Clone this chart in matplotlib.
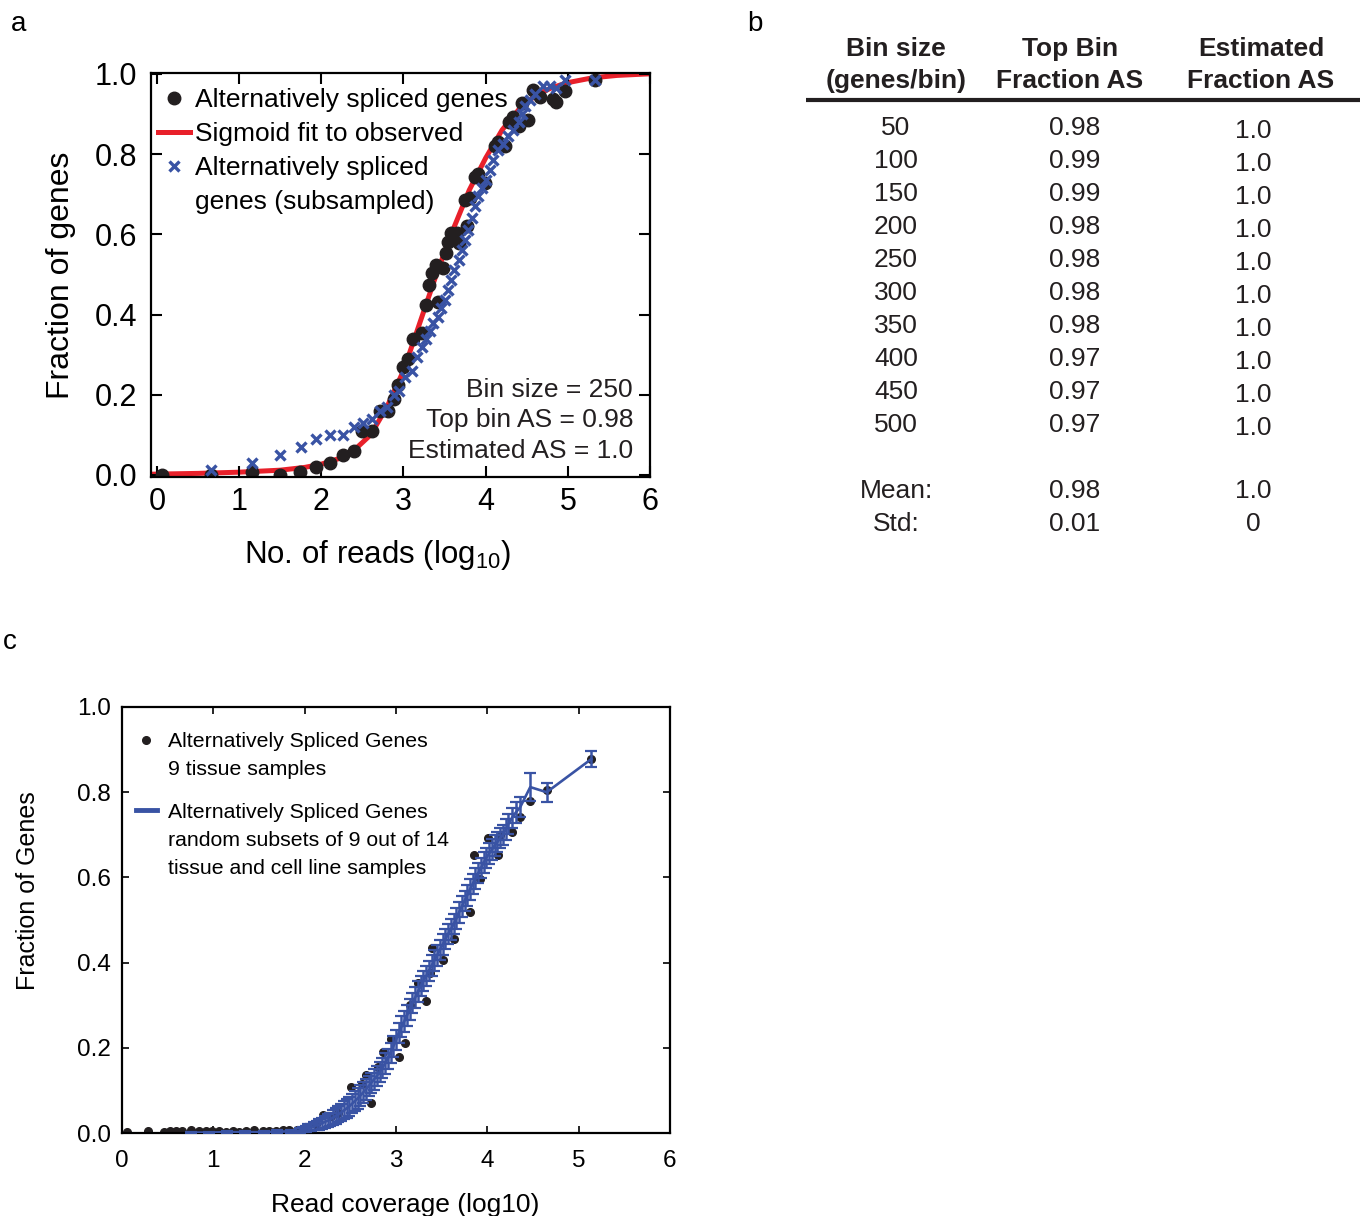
import matplotlib
matplotlib.use("Agg")
import matplotlib.pyplot as plt
from matplotlib.lines import Line2D

plt.rcParams['font.family'] = ['Liberation Sans', 'DejaVu Sans']
plt.rcParams['mathtext.default'] = 'regular'

# ---- panel a data ----
obs_x = [0.06, 0.66, 1.16, 1.50, 1.74, 1.93, 2.10, 2.26, 2.40, 2.50, 2.62, 2.71, 2.81, 2.88,
         2.93, 3.00, 3.06, 3.12, 3.22, 3.27, 3.42, 3.31, 3.35, 3.40, 3.48, 3.52, 3.54, 3.58,
         3.65, 3.67, 3.77, 3.75, 3.81, 3.87, 3.91, 3.99, 4.11, 4.15, 4.23, 4.29, 4.33, 4.40,
         4.44, 4.52, 4.58, 4.66, 4.82, 4.86, 4.96, 5.33]
obs_y = [0.0, 0.0, 0.008, 0.0, 0.008, 0.02, 0.03, 0.05, 0.06, 0.11, 0.11, 0.16, 0.16, 0.19,
         0.225, 0.27, 0.29, 0.34, 0.353, 0.424, 0.432, 0.474, 0.503, 0.524, 0.515, 0.553, 0.582, 0.603,
         0.603, 0.578, 0.62, 0.686, 0.69, 0.744, 0.75, 0.727, 0.819, 0.831, 0.819, 0.881, 0.893, 0.869,
         0.927, 0.885, 0.96, 0.943, 0.936, 0.93, 0.956, 0.985]

sub_x = [0.66, 1.16, 1.50, 1.75, 1.94, 2.11, 2.26, 2.40, 2.51, 2.62, 2.71, 2.80, 2.88, 2.95,
         3.02, 3.10, 3.16, 3.22, 3.27, 3.32, 3.36, 3.42, 3.46, 3.50, 3.54, 3.58, 3.62, 3.67,
         3.71, 3.75, 3.79, 3.83, 3.87, 3.91, 3.95, 4.01, 4.05, 4.09, 4.15, 4.21, 4.27, 4.33,
         4.40, 4.44, 4.48, 4.54, 4.60, 4.70, 4.78, 4.86, 4.96, 5.33]
sub_y = [0.012, 0.03, 0.05, 0.07, 0.09, 0.10, 0.10, 0.12, 0.13, 0.14, 0.16, 0.17, 0.20, 0.21,
         0.245, 0.26, 0.295, 0.32, 0.34, 0.36, 0.38, 0.395, 0.415, 0.435, 0.46, 0.485, 0.51, 0.535,
         0.56, 0.585, 0.61, 0.64, 0.67, 0.695, 0.715, 0.735, 0.76, 0.785, 0.81, 0.825, 0.845, 0.86,
         0.88, 0.90, 0.92, 0.935, 0.95, 0.97, 0.97, 0.965, 0.985, 0.985]

fit_x = [-0.07, 0.5, 1.0, 1.5, 1.8, 2.0, 2.2, 2.4, 2.6, 2.8, 3.0, 3.2, 3.4, 3.6, 3.8, 4.0,
         4.2, 4.4, 4.6, 4.8, 5.0, 5.3, 5.6, 6.0]
fit_y = [0.002, 0.004, 0.007, 0.012, 0.019, 0.027, 0.04, 0.062, 0.1, 0.17, 0.26, 0.38, 0.50,
         0.61, 0.71, 0.79, 0.86, 0.91, 0.945, 0.965, 0.978, 0.99, 0.996, 1.0]

# ---- panel b table ----
bin_sizes = [50, 100, 150, 200, 250, 300, 350, 400, 450, 500]
top_bin_as = [0.98, 0.99, 0.99, 0.98, 0.98, 0.98, 0.98, 0.97, 0.97, 0.97]
est_as = [1.0] * 10
mean_row = ['Mean:', '0.98', '1.0']
std_row = ['Std:', '0.01', '0']

# ---- panel c data ----
c_dot_x = [0.05, 0.29, 0.46, 0.53, 0.59, 0.66, 0.75, 0.84, 0.92, 0.99, 1.06, 1.14, 1.21, 1.28,
           1.36, 1.45, 1.54, 1.61, 1.69, 1.76, 1.83, 1.92, 2.00, 2.12, 2.20, 2.29, 2.36, 2.51,
           2.63, 2.67, 2.73, 2.80, 2.86, 2.95, 3.03, 3.10, 3.15, 3.24, 3.33, 3.37, 3.39, 3.52,
           3.64, 3.81, 3.85, 3.92, 4.01, 4.12, 4.14, 4.27, 4.36, 4.47, 4.65, 5.14]
c_dot_y = [0.003, 0.004, 0.003, 0.004, 0.004, 0.005, 0.006, 0.004, 0.005, 0.004, 0.004, 0.003, 0.004, 0.003,
           0.004, 0.006, 0.004, 0.005, 0.005, 0.006, 0.006, 0.007, 0.012, 0.02, 0.043, 0.04, 0.047, 0.107,
           0.115, 0.135, 0.07, 0.155, 0.19, 0.22, 0.179, 0.212, 0.30, 0.353, 0.31, 0.376, 0.435, 0.406,
           0.455, 0.518, 0.652, 0.597, 0.692, 0.652, 0.70, 0.706, 0.741, 0.78, 0.804, 0.877]

c_sub_x = [0.75, 0.95, 1.15, 1.35, 1.55, 1.70, 1.85, 1.95, 1.98, 2.01,
           2.04, 2.07, 2.10, 2.13, 2.16, 2.19, 2.22, 2.25, 2.28, 2.31,
           2.34, 2.37, 2.40, 2.43, 2.46, 2.49, 2.52, 2.55, 2.58, 2.61,
           2.64, 2.67, 2.70, 2.73, 2.76, 2.79, 2.82, 2.85, 2.88, 2.91,
           2.94, 2.97, 3.00, 3.03, 3.06, 3.09, 3.12, 3.15, 3.18, 3.21,
           3.24, 3.27, 3.30, 3.33, 3.36, 3.39, 3.42, 3.45, 3.48, 3.51,
           3.54, 3.57, 3.60, 3.63, 3.66, 3.69, 3.72, 3.75, 3.78, 3.81,
           3.84, 3.87, 3.90, 3.93, 3.96, 3.99, 4.02, 4.05, 4.08, 4.11,
           4.14, 4.17, 4.20, 4.23, 4.27, 4.31, 4.36, 4.47, 4.65, 5.14]
c_sub_y = [0.001, 0.001, 0.002, 0.002, 0.002, 0.003, 0.004, 0.006, 0.008, 0.010,
           0.012, 0.013, 0.016, 0.018, 0.020, 0.023, 0.026, 0.029, 0.032, 0.036,
           0.040, 0.044, 0.048, 0.053, 0.058, 0.063, 0.069, 0.075, 0.081, 0.088,
           0.095, 0.102, 0.110, 0.118, 0.126, 0.134, 0.143, 0.153, 0.163, 0.174,
           0.188, 0.203, 0.218, 0.235, 0.250, 0.262, 0.276, 0.290, 0.305, 0.318,
           0.332, 0.345, 0.357, 0.368, 0.380, 0.393, 0.405, 0.417, 0.430, 0.442,
           0.455, 0.467, 0.478, 0.490, 0.503, 0.518, 0.532, 0.545, 0.558, 0.572,
           0.585, 0.597, 0.610, 0.622, 0.635, 0.646, 0.656, 0.665, 0.675, 0.683,
           0.692, 0.700, 0.712, 0.725, 0.740, 0.752, 0.765, 0.812, 0.800, 0.878]
c_sub_err = [0.002, 0.002, 0.002, 0.002, 0.003, 0.003, 0.004, 0.005, 0.006, 0.007,
             0.008, 0.009, 0.010, 0.011, 0.012, 0.013, 0.014, 0.015, 0.016, 0.017,
             0.018, 0.019, 0.020, 0.021, 0.022, 0.022, 0.023, 0.023, 0.024, 0.024,
             0.024, 0.024, 0.024, 0.024, 0.024, 0.024, 0.024, 0.024, 0.024, 0.024,
             0.024, 0.024, 0.024, 0.024, 0.024, 0.024, 0.024, 0.024, 0.024, 0.024,
             0.024, 0.024, 0.024, 0.024, 0.024, 0.024, 0.024, 0.024, 0.024, 0.024,
             0.024, 0.024, 0.024, 0.024, 0.024, 0.024, 0.024, 0.024, 0.024, 0.024,
             0.024, 0.024, 0.024, 0.024, 0.024, 0.024, 0.024, 0.024, 0.024, 0.024,
             0.024, 0.024, 0.024, 0.024, 0.024, 0.024, 0.024, 0.033, 0.022, 0.018]

BLACK = '#231f20'
RED = '#e8202a'
BLUE = '#3953a4'

W, H = 1360, 1216
fig = plt.figure(figsize=(W / 100, H / 100), dpi=100)


def px_axes(left, top, right, bottom):
    return fig.add_axes([left / W, 1 - bottom / H, (right - left) / W, (bottom - top) / H])


blank = Line2D([], [], ls='none', marker='none')

# ================= panel a =================
ax = px_axes(151, 73, 650, 477)
fit_line, = ax.plot(fit_x, fit_y, color=RED, lw=3.6, zorder=1)
obs_pts, = ax.plot(obs_x, obs_y, 'o', color=BLACK, ms=9, zorder=2)
sub_pts, = ax.plot(sub_x, sub_y, 'x', color=BLUE, ms=6.5, mew=2.4, zorder=3)
ax.set_xlim(-0.073, 6.0)
ax.set_ylim(-0.005, 1.002)
ax.set_xticks(range(7))
ax.set_yticks([0, 0.2, 0.4, 0.6, 0.8, 1.0])
ax.set_yticklabels(['0.0', '0.2', '0.4', '0.6', '0.8', '1.0'])
ax.tick_params(direction='in', length=8, width=1.5, top=True, right=True, labelsize=22)
ax.tick_params(axis='x', pad=7)
ax.tick_params(axis='y', pad=10)
for s in ax.spines.values():
    s.set_linewidth(1.6)
ax.set_ylabel('Fraction of genes', fontsize=23)
ax.yaxis.set_label_coords(-0.15, 0.5)
ax.set_xlabel('No. of reads (log$_{10}$)', fontsize=22.5)
ax.xaxis.set_label_coords(0.453, -0.15)

ax.legend([obs_pts, fit_line, sub_pts, blank],
          ['Alternatively spliced genes', 'Sigmoid fit to observed',
           'Alternatively spliced', 'genes (subsampled)'],
          loc='upper left', bbox_to_anchor=(0.014, 0.962), frameon=False, fontsize=19,
          handlelength=1.21, handletextpad=0.19, labelspacing=0.38,
          borderpad=0.0, borderaxespad=0.0)

ax.text(0.966, 0.035, 'Bin size = 250\nTop bin AS = 0.98\nEstimated AS = 1.0',
        transform=ax.transAxes, ha='right', va='bottom', fontsize=19,
        linespacing=1.35, color=BLACK)

# ================= panel b (table) =================
tab = px_axes(790, 20, 1360, 545)
tab.set_xlim(790, 1360)
tab.set_ylim(545, 20)
tab.axis('off')
col_x = [896, 1075, 1253]
head_x = [896, 1070, 1261]
headers = ['Bin size\n(genes/bin)', 'Top Bin\nFraction AS', 'Estimated\nFraction AS']
for hx, h in zip(head_x, headers):
    tab.text(hx, 65, h, ha='center', va='center', fontsize=19, fontweight='bold',
             linespacing=1.46, color=BLACK)
tab.plot([806, 1360], [100, 100], color=BLACK, lw=3, solid_capstyle='butt')
for i, (b, t, e) in enumerate(zip(bin_sizes, top_bin_as, est_as)):
    y = 128 + 33 * i
    tab.text(col_x[0], y, str(b), ha='center', va='center', fontsize=19, color=BLACK)
    tab.text(col_x[1], y, f'{t:.2f}', ha='center', va='center', fontsize=19, color=BLACK)
    tab.text(col_x[2], y + 3, f'{e:.1f}', ha='center', va='center', fontsize=19, color=BLACK)
for y, row in [(491, mean_row), (524, std_row)]:
    for cx, s in zip(col_x, row):
        tab.text(cx, y, s, ha='center', va='center', fontsize=19, color=BLACK)

# ================= panel c =================
axc = px_axes(122, 707, 670, 1133)
axc.plot(c_dot_x, c_dot_y, 'o', color=BLACK, ms=5.5, zorder=2)
axc.errorbar(c_sub_x, c_sub_y, yerr=c_sub_err, color=BLUE, lw=1.9, elinewidth=1.8,
             capsize=4.5, capthick=1.6, zorder=3)
axc.set_xlim(0, 6)
axc.set_ylim(0, 1)
axc.set_xticks(range(7))
axc.set_yticks([0, 0.2, 0.4, 0.6, 0.8, 1.0])
axc.set_yticklabels(['0.0', '0.2', '0.4', '0.6', '0.8', '1.0'])
axc.tick_params(direction='in', length=5, width=1.2, top=True, right=True, labelsize=17.5)
axc.tick_params(axis='x', pad=12)
axc.tick_params(axis='y', pad=8)
for s in axc.spines.values():
    s.set_linewidth(1.6)
axc.set_ylabel('Fraction of Genes', fontsize=18)
axc.yaxis.set_label_coords(-0.15, 0.568)
axc.set_xlabel('Read coverage (log10)', fontsize=19)
axc.xaxis.set_label_coords(0.516, -0.14)

h1 = Line2D([], [], marker='o', ls='none', color=BLACK, ms=5.5)
h2 = Line2D([], [], color=BLUE, lw=3.5)
leg_kw = dict(loc='upper left', frameon=False, fontsize=15.3, handlelength=1.0,
              handletextpad=0.52, labelspacing=0.42, borderpad=0.0, borderaxespad=0.0)
leg1 = axc.legend([h1, blank], ['Alternatively Spliced Genes', '9 tissue samples'],
                  bbox_to_anchor=(0.025, 0.941), **leg_kw)
axc.add_artist(leg1)
axc.legend([h2, blank, blank],
           ['Alternatively Spliced Genes', 'random subsets of 9 out of 14',
            'tissue and cell line samples'],
           bbox_to_anchor=(0.025, 0.775), **leg_kw)

# panel letters
fig.text(19 / W, 1 - 24 / H, 'a', fontsize=20, ha='center', va='center')
fig.text(755 / W, 1 - 24 / H, 'b', fontsize=20, ha='center', va='center')
fig.text(10 / W, 1 - 642 / H, 'c', fontsize=20, ha='center', va='center')

fig.savefig('out.png', dpi=100)
